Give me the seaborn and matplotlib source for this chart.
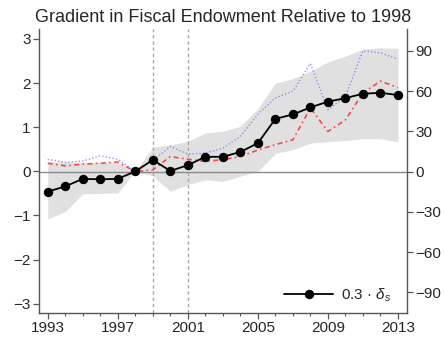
import numpy as np
import pandas as pd
import matplotlib
matplotlib.use("Agg")
import matplotlib.pyplot as plt
import seaborn as sns

# Yearly series
years = list(range(1993, 2014))
gradient = [-0.46, -0.34, -0.17, -0.18, -0.17, 0.00, 0.26, 0.01, 0.14, 0.33, 0.33,
            0.44, 0.64, 1.19, 1.29, 1.45, 1.58, 1.66, 1.76, 1.78, 1.73]
ci_low = [-1.08, -0.91, -0.51, -0.50, -0.49, 0.00, -0.10, -0.45, -0.30, -0.19, -0.23,
          -0.11, 0.00, 0.41, 0.49, 0.64, 0.67, 0.70, 0.74, 0.74, 0.67]
ci_high = [0.22, 0.22, 0.20, 0.20, 0.20, 0.00, 0.55, 0.60, 0.68, 0.87, 0.91,
           1.02, 1.42, 2.00, 2.10, 2.27, 2.48, 2.61, 2.77, 2.80, 2.79]
# Right-axis series
red_series = [6.2, 4.3, 5.6, 6.2, 7.2, 0.0, 1.3, 11.2, 9.2, 7.6, 8.9,
              11.2, 16.1, 20.1, 23.7, 47.3, 29.9, 38.5, 58.5, 67.4, 62.5]
blue_series = [9.2, 6.9, 7.9, 11.8, 9.2, 0.0, 8.2, 18.7, 13.1, 13.8, 17.4,
               26.3, 42.7, 54.9, 59.8, 80.5, 46.0, 55.9, 90.1, 88.4, 83.8]

left_ticks = [-3, -2, -1, 0, 1, 2, 3]
right_ticks = [-90, -60, -30, 0, 30, 60, 90]
x_ticks = [1993, 1997, 2001, 2005, 2009, 2013]
event_years = [1999, 2001]

df = pd.DataFrame({"year": years, "gradient": gradient, "lo": ci_low, "hi": ci_high,
                   "red": red_series, "blue": blue_series})

sns.set_style("ticks")
plt.rcParams["font.family"] = ["Liberation Sans", "DejaVu Sans"]
plt.rcParams["mathtext.fontset"] = "custom"
plt.rcParams["mathtext.it"] = "Liberation Sans:italic"

fig = plt.figure(figsize=(4.45, 3.39), dpi=100)
ax = fig.add_axes([0.0876, 0.0767, 0.8264, 0.8369])
ax2 = ax.twinx()

ax.set_xlim(1992.5, 2013.5)
ax.set_ylim(-3.21, 3.22)
ax2.set_ylim(-105.3, 106.0)

# background layer (right axes): confidence band, reference lines, comparison series
ax2.fill_between(df["year"], df["lo"], df["hi"], color="#e0e0e0", lw=0, zorder=1,
                 transform=ax.transData)
ax2.axhline(0, color="#8a8a8a", lw=1.0, zorder=2)
for yr in event_years:
    ax2.axvline(yr, color="#a8a8a8", lw=1.0, ls=(0, (2.5, 2)), zorder=2)

sns.lineplot(data=df, x="year", y="red", ax=ax2, color="#ff2222", alpha=0.8, lw=1.2,
             legend=False, zorder=3)
ax2.lines[-1].set_linestyle((0, (3, 2, 1, 2)))
sns.lineplot(data=df, x="year", y="blue", ax=ax2, color="#7070ff", alpha=0.75, lw=1.0,
             legend=False, zorder=3)
ax2.lines[-1].set_linestyle((0, (1, 1.5)))

# main series on top
ax.set_zorder(ax2.get_zorder() + 1)
ax.patch.set_visible(False)
sns.lineplot(data=df, x="year", y="gradient", ax=ax, color="black", lw=1.3,
             marker="o", markersize=6, markeredgecolor="black",
             label="0.3 · $\\delta_s$", zorder=5)

ax.set_xlim(1992.5, 2013.5)
ax.set_ylim(-3.21, 3.22)
ax2.set_ylim(-105.3, 106.0)
ax.set_xticks(x_ticks)
ax.set_xticks(years, minor=True)
ax.set_yticks(left_ticks)
ax2.set_yticks(right_ticks)
ax.set_xlabel("")
ax.set_ylabel("")
ax2.set_ylabel("")

for a in (ax, ax2):
    a.spines["top"].set_visible(False)
    for s in ("left", "right", "bottom"):
        a.spines[s].set_color("#555555")
        a.spines[s].set_linewidth(1.0)
    a.tick_params(axis="both", which="major", labelsize=11, length=4,
                  width=0.9, color="#555555", pad=2)
    a.tick_params(axis="x", which="minor", length=2, width=0.8, color="#555555")
ax.spines["right"].set_visible(False)
ax2.spines["left"].set_visible(False)
ax2.spines["bottom"].set_visible(False)

ax.legend(loc="lower right", frameon=False, fontsize=11, handlelength=3.2,
          handletextpad=0.5, bbox_to_anchor=(0.982, 0.0), borderaxespad=0.2)

ax.set_title("Gradient in Fiscal Endowment Relative to 1998", fontsize=13, pad=5)

fig.savefig("out.png", dpi=100)
